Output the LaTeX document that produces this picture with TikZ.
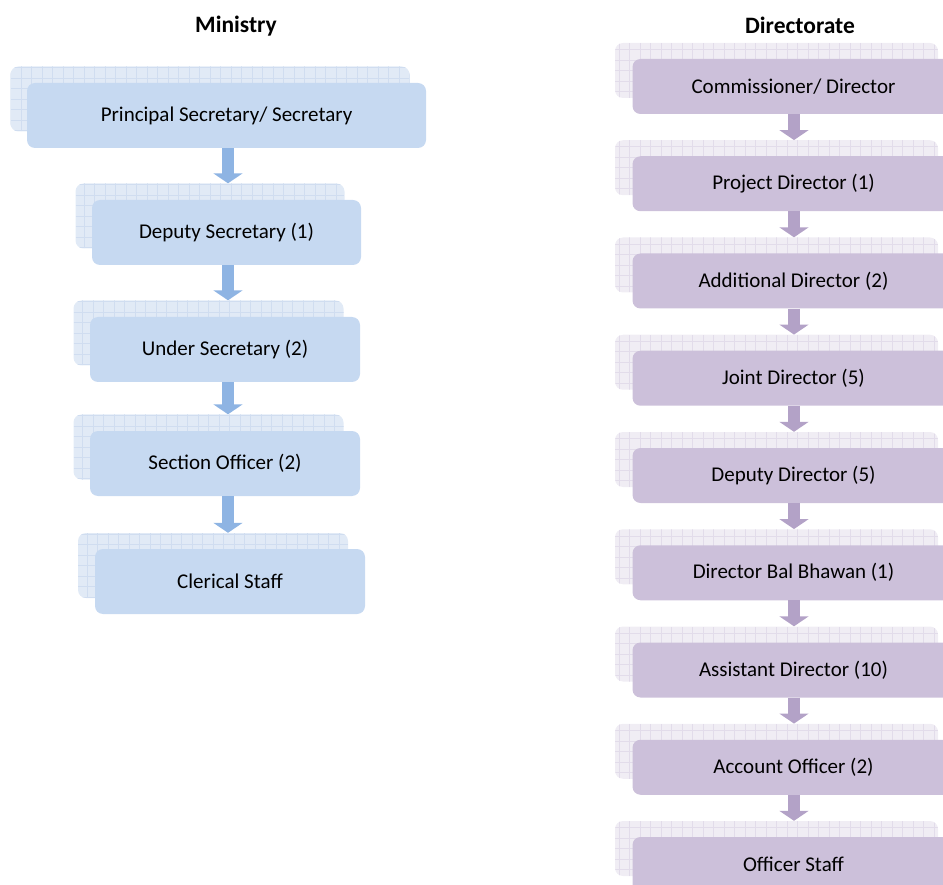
\documentclass[tikz,border=0pt]{standalone}
\usepackage{fontspec}
\setmainfont{Carlito}
\usetikzlibrary{arrows.meta}
\definecolor{lfill}{HTML}{C6D9F1}
\definecolor{lback}{HTML}{E1EAF6}
\definecolor{lgrid}{HTML}{D0DDF0}
\definecolor{larrow}{HTML}{8EB4E3}
\definecolor{rfill}{HTML}{CCC0DA}
\definecolor{rback}{HTML}{F0EDF4}
\definecolor{rgrid}{HTML}{E2DCEA}
\definecolor{rarrow}{HTML}{B3A2C7}
\tikzset{
  boxtext/.style={font=\fontsize{21}{24}\selectfont, text=black, inner sep=0pt},
  lfront/.style={boxtext, fill=lfill, rounded corners=8pt, minimum height=65pt},
  lbackbox/.style={fill=lback, rounded corners=8pt, minimum height=65pt, inner sep=0pt,
    path picture={\draw[lgrid, line width=0.5pt, step=10.5pt] (path picture bounding box.south west) grid (path picture bounding box.north east);}},
  rfront/.style={boxtext, fill=rfill, rounded corners=8pt, minimum height=55pt, minimum width=322pt},
  rbackbox/.style={fill=rback, rounded corners=8pt, minimum height=55pt, minimum width=323pt, inner sep=0pt,
    path picture={\draw[rgrid, line width=0.5pt, step=10.5pt] (path picture bounding box.south west) grid (path picture bounding box.north east);}},
  larr/.style={draw=larrow, line width=12pt, -{Triangle[width=29pt,length=10pt]}, color=larrow},
  rarr/.style={draw=rarrow, line width=12pt, -{Triangle[width=29pt,length=10pt]}, color=rarrow},
  title/.style={font=\fontsize{23.5}{26}\selectfont\bfseries, inner sep=0pt}
}
\begin{document}
\begin{tikzpicture}[x=1pt,y=-1pt]
\useasboundingbox (0,0) rectangle (943,885);
% titles
\node[title] (tmin) at (236,26) {Ministry};
\node[title] (tdir) at (800,25) {Directorate};
% left column
\node[lbackbox, minimum width=399pt] (pb) at (210,99) {};
\node[lfront, minimum width=399pt] (p) at (226.5,115.5) {Principal Secretary/ Secretary};
\node[lbackbox, minimum width=269pt] (db) at (210,216) {};
\node[lfront, minimum width=269pt] (d) at (226.5,232.5) {Deputy Secretary (1)};
\node[lbackbox, minimum width=270pt] (ub) at (208.5,333) {};
\node[lfront, minimum width=270pt] (u) at (225,349.5) {Under Secretary (2)};
\node[lbackbox, minimum width=270pt] (sb) at (208.5,447) {};
\node[lfront, minimum width=270pt] (s) at (225,463.5) {Section Officer (2)};
\node[lbackbox, minimum width=270pt] (cb) at (213,565.5) {};
\node[lfront, minimum width=270pt] (c) at (230,581.5) {Clerical Staff};
\coordinate (lx) at (228,0);
\draw[larr] (p.south -| lx) -- (db.north -| lx);
\draw[larr] (d.south -| lx) -- (ub.north -| lx);
\draw[larr] (u.south -| lx) -- (sb.north -| lx);
\draw[larr] (s.south -| lx) -- (cb.north -| lx);
% right column
\coordinate (rx) at (794,0);
\foreach \i/\t in {0/{Commissioner/ Director},1/{Project Director (1)},2/{Additional Director (2)},3/{Joint Director (5)},4/{Deputy Director (5)},5/{Director Bal Bhawan (1)},6/{Assistant Director (10)},7/{Account Officer (2)},8/{Officer Staff}}{
  \pgfmathsetmacro{\yc}{59+97.25*\i+27.5}
  \node[rbackbox] (r\i b) at (776.5,\yc-16) {};
  \node[rfront] (r\i) at (793.5,\yc) {\t};
}
\foreach \i [evaluate=\i as \j using int(\i+1)] in {0,...,7}{
  \draw[rarr] (r\i.south -| rx) -- (r\j b.north -| rx);
}
\end{tikzpicture}
\end{document}
